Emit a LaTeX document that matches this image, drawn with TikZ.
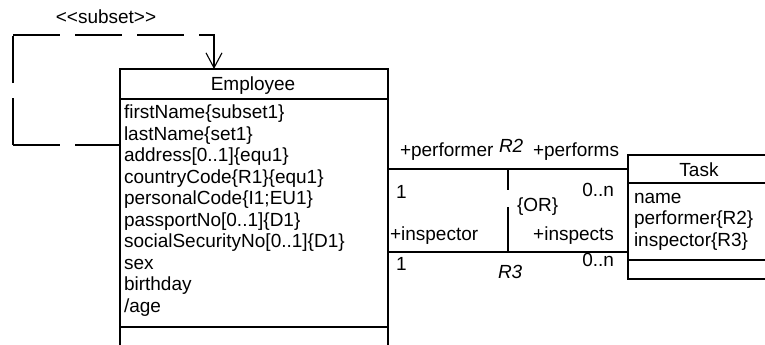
\documentclass[tikz,border=0pt]{standalone}
\usepackage{fontspec}
\setmainfont{Liberation Sans}
\usetikzlibrary{arrows.meta}
\tikzset{
  every node/.style={font=\fontsize{19}{21.5}\selectfont, inner sep=0pt, outer sep=0pt},
  umlbox/.style={draw, line width=1.1pt, anchor=north west},
  link/.style={line width=1.1pt},
  subsetline/.style={line width=1.1pt, dash pattern=on 47pt off 15pt},
  lbl/.style={anchor=base west},
  lblr/.style={anchor=base east},
  role/.style={anchor=base west, font=\fontsize{19}{21.5}\selectfont\itshape},
}
\begin{document}
\begin{tikzpicture}[x=1pt, y=-1pt]
\useasboundingbox (0,0) rectangle (765,345);
\clip (0,0) rectangle (765,345);

% Employee class
\node[umlbox, minimum width=268pt, minimum height=291pt] (emp) at (120,69) {};
\draw[link] ([yshift=-30pt]emp.north west) -- ([yshift=-30pt]emp.north east);
\draw[link] ([yshift=-258pt]emp.north west) -- ([yshift=-258pt]emp.north east);
\node[anchor=base] (empname) at (253,90.5) {Employee};
\foreach \t [count=\i from 0] in {firstName\{subset1\}, lastName\{set1\}, address[0..1]\{equ1\}, countryCode\{R1\}\{equ1\}, personalCode\{I1;EU1\}, passportNo[0..1]\{D1\}, socialSecurityNo[0..1]\{D1\}, sex, birthday, /age}
  \node[lbl] (ea\i) at (124, 118.5+21.5*\i) {\t};

% Task class
\node[umlbox, minimum width=144pt, minimum height=124pt] (task) at (628,155) {};
\draw[link] ([yshift=-28pt]task.north west) -- ([yshift=-28pt]task.north east);
\draw[link] ([yshift=-105pt]task.north west) -- ([yshift=-105pt]task.north east);
\node[anchor=base] (taskname) at (699,176.5) {Task};
\node[lbl] (ta0) at (634,203) {name};
\node[lbl] (ta1) at (634,224.5) {performer\{R2\}};
\node[lbl] (ta2) at (634,246) {inspector\{R3\}};

% Associations R2 and R3
\draw[link] ([yshift=-100pt]emp.north east) -- ([yshift=-14pt]task.north west);
\draw[link] ([yshift=-183pt]emp.north east) -- ([yshift=-97pt]task.north west);

\node[lbl] (perf) at (400,156.5) {+performer};
\node[role] (r2) at (499,152.5) {R2};
\node[lbl] (performs) at (533,156.5) {+performs};
\node[lbl] (m1) at (396,198) {1};
\node[lblr] (m2) at (614,196.5) {0..n};
\node[lbl] (insp) at (390,240) {+inspector};
\node[lblr] (inspects) at (614,240) {+inspects};
\node[lbl] (m3) at (396,270) {1};
\node[role] (r3) at (498,278) {R3};
\node[lblr] (m4) at (614,266.5) {0..n};

% {OR} constraint
\coordinate (ora) at (508,169);
\coordinate (orb) at (508,252);
\draw[link] (ora) -- ++(0,21);
\draw[link] (orb) -- ++(0,-45);
\node[lbl] (or) at (517,211) {\{OR\}};

% subset dependency
\coordinate (c1) at (13,145);
\coordinate (c2) at (13,35);
\coordinate (c3) at (214,35);
\draw[subsetline] (c1) -- ([yshift=-76pt]emp.north west);
\draw[subsetline] (c1) -- (c2);
\draw[subsetline, -{Straight Barb[length=15pt, width=16pt, line width=1.1pt]}] (c2) -- (c3) -- ([xshift=94pt]emp.north west);
\node[anchor=base] (subsetlbl) at (106,24) {<{}<subset>{}>};
\end{tikzpicture}
\end{document}
